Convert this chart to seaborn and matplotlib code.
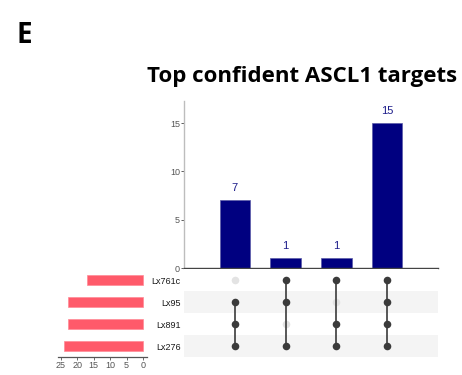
import matplotlib
matplotlib.use("Agg")
import matplotlib.pyplot as plt
import seaborn as sns
import pandas as pd
import numpy as np

sns.set_style("white")
plt.rcParams["font.family"] = ["Liberation Sans", "DejaVu Sans"]
plt.rcParams["text.color"] = "black"

# Sets (top to bottom in the matrix) and their total sizes
sets = ["Lx761c", "Lx95", "Lx891", "Lx276"]
set_sizes = [17, 23, 23, 24]

# Intersections: membership per set and the intersection size
intersections = ["Lx95&Lx891&Lx276", "Lx761c&Lx95&Lx276", "Lx761c&Lx891&Lx276", "all"]
intersection_sizes = [7, 1, 1, 15]
membership = [
    [0, 1, 1, 1],
    [1, 1, 0, 1],
    [1, 0, 1, 1],
    [1, 1, 1, 1],
]

bar_color = "#000080"
set_color = "#ff5a6a"
dot_on = "#3b3b3b"
dot_off = "#e3e3e3"
tick_gray = "#555555"

W, H = 462, 375
fig = plt.figure(figsize=(W / 100, H / 100), dpi=100)


def px_axes(x0, y0, x1, y1):
    return fig.add_axes([x0 / W, 1 - y1 / H, (x1 - x0) / W, (y1 - y0) / H])


ax_bar = px_axes(184, 101, 438, 268)
ax_mat = px_axes(184, 269, 438, 357)
ax_set = px_axes(58, 269, 147, 357)

# Intersection size bars
df_int = pd.DataFrame({"inter": intersections, "size": intersection_sizes})
sns.barplot(data=df_int, x="inter", y="size", order=intersections, color=bar_color,
            saturation=1, width=0.6, edgecolor="#5a5aa8", linewidth=0.5, ax=ax_bar)
for i, v in enumerate(intersection_sizes):
    ax_bar.annotate(str(v), (i, v), xytext=(0, 5), textcoords="offset points",
                    ha="center", va="bottom", fontsize=8, color="#1c1c8a")
ax_bar.set_xlim(-1.0, 4.0)
ax_bar.set_ylim(0, 17.3)
ax_bar.set_yticks([0, 5, 10, 15])
ax_bar.set_xticks([])
ax_bar.set_xlabel("")
ax_bar.set_ylabel("")
for s in ["top", "right"]:
    ax_bar.spines[s].set_visible(False)
ax_bar.spines["left"].set_color("#bdbdbd")
ax_bar.spines["left"].set_linewidth(1.0)
ax_bar.spines["bottom"].set_color("#444444")
ax_bar.spines["bottom"].set_linewidth(1.0)
ax_bar.tick_params(axis="y", length=2, width=0.6, color="#444444", pad=1,
                   labelsize=6.5, labelcolor=tick_gray, left=True)

# Membership matrix
ax_mat.set_xlim(-1.0, 4.0)
ax_mat.set_ylim(3.5, -0.5)
for r in range(len(sets)):
    if r % 2 == 1:
        ax_mat.axhspan(r - 0.5, r + 0.5, color="#f4f4f4", zorder=0, lw=0)
rows = []
for c, mem in enumerate(membership):
    for r, m in enumerate(mem):
        rows.append({"col": c, "row": r, "on": bool(m)})
df_mat = pd.DataFrame(rows)
off = df_mat[~df_mat["on"]]
on = df_mat[df_mat["on"]]
sns.scatterplot(data=off, x="col", y="row", color=dot_off, s=30, linewidth=0,
                ax=ax_mat, zorder=2, legend=False)
for c, mem in enumerate(membership):
    idx = [r for r, m in enumerate(mem) if m]
    ax_mat.plot([c, c], [min(idx), max(idx)], color=dot_on, lw=1.2, zorder=3)
sns.scatterplot(data=on, x="col", y="row", color=dot_on, s=30, linewidth=0,
                ax=ax_mat, zorder=4, legend=False)
ax_mat.set_xticks([])
ax_mat.set_yticks(range(len(sets)))
ax_mat.set_yticklabels(sets)
ax_mat.tick_params(axis="y", length=0, pad=2.5, labelsize=6.5, labelcolor="#1a1a1a")
ax_mat.set_xlabel("")
ax_mat.set_ylabel("")
for s in ax_mat.spines.values():
    s.set_visible(False)

# Set size bars
df_set = pd.DataFrame({"set": sets, "size": set_sizes})
sns.barplot(data=df_set, y="set", x="size", order=sets, orient="h", color=set_color,
            saturation=1, width=0.42, edgecolor="#ff8a96", linewidth=0.5, ax=ax_set)
ax_set.set_ylim(3.5, -0.5)
ax_set.set_xlim(25.9, -1.2)
ax_set.set_xticks([25, 20, 15, 10, 5, 0])
ax_set.set_yticks([])
ax_set.set_xlabel("")
ax_set.set_ylabel("")
for s in ["top", "right", "left"]:
    ax_set.spines[s].set_visible(False)
ax_set.spines["bottom"].set_color("#555555")
ax_set.spines["bottom"].set_linewidth(0.9)
ax_set.tick_params(axis="x", length=2, width=0.6, color="#555555", pad=1,
                   labelsize=6.5, labelcolor=tick_gray, bottom=True)

# Panel letter and title
fig.text(24.5 / W, 1 - 43 / H, "E", fontsize=20, fontweight="bold", color="black",
         family=["Open Sans", "DejaVu Sans"], ha="center", va="baseline")
fig.text(302.5 / W, 1 - 82 / H, "Top confident ASCL1 targets", fontsize=16,
         fontweight="bold", color="black", family=["Open Sans", "DejaVu Sans"],
         ha="center", va="baseline")

fig.savefig("out.png", dpi=100)
